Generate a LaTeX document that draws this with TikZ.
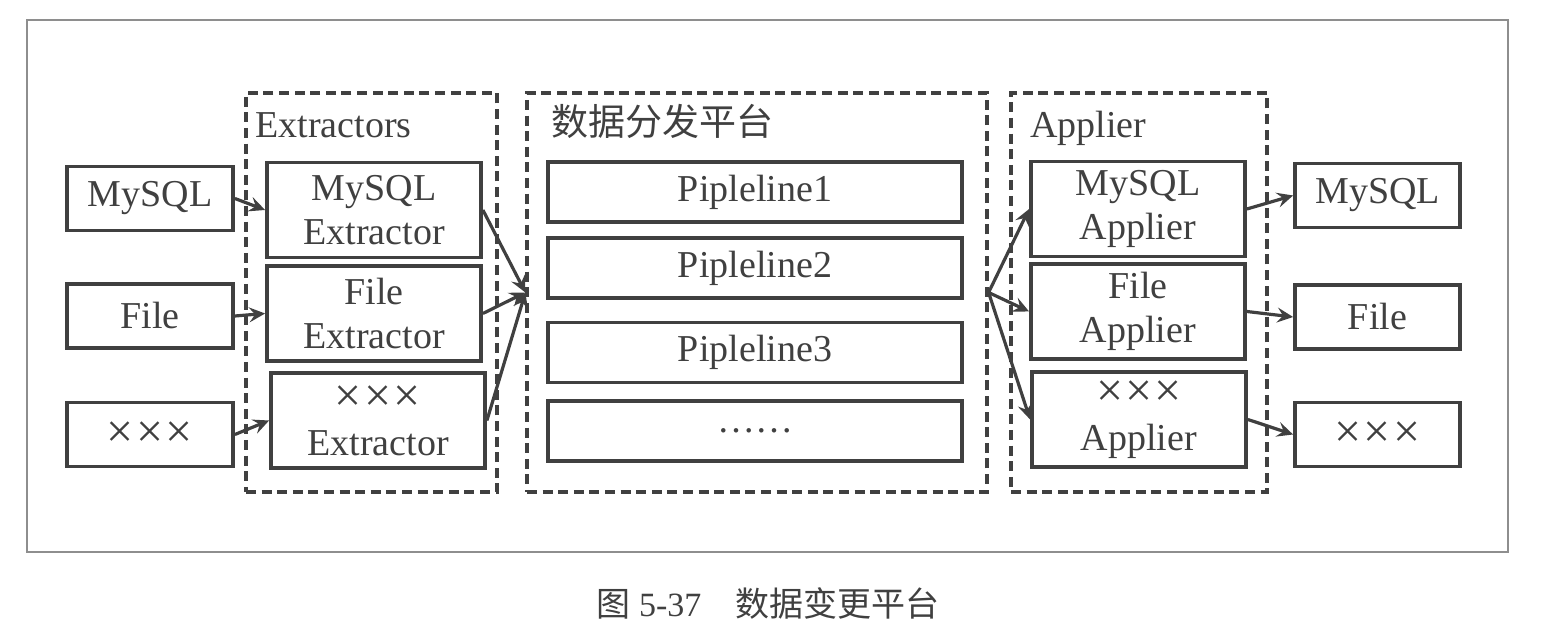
\documentclass[tikz,border=0pt]{standalone}
\usepackage{fontspec}
\setmainfont{Liberation Serif}
\newfontfamily\cjk{Noto Sans CJK SC}
\usetikzlibrary{arrows.meta}
\definecolor{ink}{HTML}{404040}
\definecolor{rim}{HTML}{8E8E8E}
\def\xxx{{\fontsize{24}{22}\selectfont ×\kern1.2pt×\kern1.2pt×}}
\tikzset{
  blk/.style={draw=ink,line width=1.9pt,text=ink,align=center,inner sep=0pt,
    font=\fontsize{19}{22}\selectfont},
  src/.style={blk,minimum width=83pt,minimum height=32pt},
  mod/.style={blk,minimum width=107pt,minimum height=47.5pt},
  pipe/.style={blk,minimum width=207pt,minimum height=30pt},
  grp/.style={draw=ink,line width=1.6pt,dash pattern=on 5pt off 2.8pt,inner sep=0pt},
  lbl/.style={text=ink,inner sep=0pt,anchor=base west,font=\fontsize{19}{22}\selectfont},
  arr/.style={draw=ink,line width=1.6pt,-{Stealth[length=8pt,width=7.5pt,inset=3pt]}},
}
\begin{document}
\begin{tikzpicture}[x=0.5pt,y=-0.5pt]
  \useasboundingbox (0,0) rectangle (1559,630);
  \draw[rim,line width=0.7pt] (27,20) rectangle (1508,552);

  \node[grp,minimum width=125.5pt,minimum height=199.5pt] (gx) at (371.5,292.5) {};
  \node[grp,minimum width=230pt,minimum height=199.5pt] (gm) at (757,292.5) {};
  \node[grp,minimum width=128pt,minimum height=199.5pt] (ga) at (1139,292.5) {};
  \node[lbl] (lx) at (255,138) {Extractors};
  \node[lbl,font=\cjk\fontsize{18.5}{22}\selectfont] (lm) at (551,136) {数据分发平台};
  \node[lbl] (la) at (1030,138) {Applier};

  \foreach \t/\y [count=\i] in {MySQL/198.5,File/316,\xxx/434.5}
    \node[src] (s\i) at (150,\y) {\t};
  \foreach \t/\x/\y [count=\i] in {MySQL/374/210,File/374/313.5,\xxx/378/420.5}
    \node[mod] (e\i) at (\x,\y) {\t\\Extractor};
  \foreach \t/\y [count=\i] in {Pipleline1/192,Pipleline2/268,Pipleline3/352.5,……/431}
    \node[pipe] (p\i) at (755,\y) {\t};
  \foreach \t/\x/\y [count=\i] in {MySQL/1138/209,File/1138/311.5,\xxx/1139/419.5}
    \node[mod] (a\i) at (\x,\y) {\t\\Applier};
  \foreach \t/\y [count=\i] in {MySQL/195.5,File/317,\xxx/434.5}
    \node[src,minimum width=82.5pt] (r\i) at (1377.5,\y) {\t};

  \foreach \i in {1,2,3} {
    \draw[arr] (s\i.east) -- (e\i.west);
    \draw[arr] (e\i.east) -- (gm.west);
    \draw[arr] (gm.east) -- (a\i.west);
    \draw[arr] (a\i.east) -- (r\i.west);
  }

  \node[text=ink,inner sep=0pt,anchor=base,font=\fontsize{17}{20}\selectfont] (cap) at (768,617)
    {{\cjk 图}~5-37\quad{\cjk 数据变更平台}};
\end{tikzpicture}
\end{document}
